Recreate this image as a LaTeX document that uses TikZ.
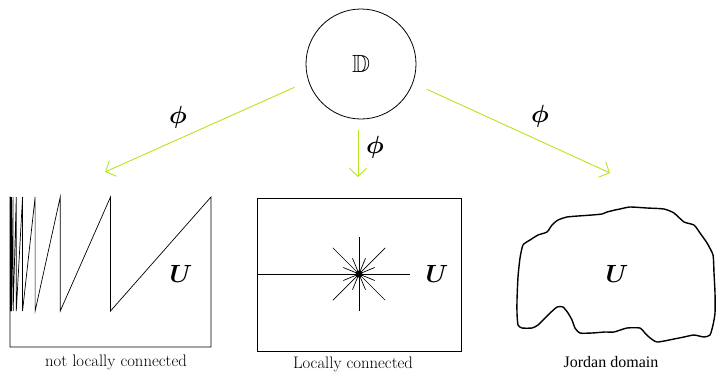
\documentclass[tikz,border=0pt]{standalone}
\usepackage{amsmath,amssymb,bm}
\usepackage{fontspec}
\newfontfamily\timesfont{Liberation Serif}
\usetikzlibrary{arrows.meta}
\definecolor{limegreen}{RGB}{181,230,29}
\begin{document}
\begin{tikzpicture}[x=1pt,y=-1pt,
        map/.style={limegreen, line width=0.9pt, -{Straight Barb[length=8pt,width=17pt]}},
        caption/.style={font=\fontsize{16.7}{20}\selectfont},
        setname/.style={font=\fontsize{24.88}{30}\selectfont}]
        \useasboundingbox (0,0) rectangle (717,373);
        % the disk and the three maps
        \node[draw, circle, line width=0.8pt, minimum size=110pt, inner sep=0pt, setname] (disk) at (361,64) {$\mathbb{D}$};
        \coordinate (lto) at (105,172);
        \coordinate (mto) at (358,177);
        \coordinate (rto) at (610,173);
        \draw[map, shorten <=15pt] (disk.198) -- (lto);
        \draw[map, shorten <=11pt] ([xshift=-3pt]disk.south) -- (mto);
        \draw[map, shorten <=15pt] (disk.340) -- (rto);
        \node[setname] (lphi) at (178,117) {$\bm{\phi}$};
        \node[setname] (mphi) at (375,147) {$\bm{\phi}$};
        \node[setname] (rphi) at (540,116) {$\bm{\phi}$};
        % comb-like domain
        \draw[line width=0.7pt] (10,347) -- (211,347) -- (211,197)
            \foreach \k in {1,...,9} { -- ({10+201/2^\k},311) -- ({10+201/2^\k},197) }
            -- (10,197) -- cycle;
        \node[setname] (lset) at (181,274) {$\bm{U}$};
        \node[caption] (lcap) at (116,362) {not locally connected};
        % slit domain with a star
        \draw[line width=0.7pt] (257,198) rectangle (461,351);
        \coordinate (hub) at (359,274);
        \draw[line width=0.7pt] (257,274) -- (410,274);
        \foreach \a in {45,90,...,360} \draw[line width=0.7pt] (hub) -- ++(\a:37);
        \foreach \a in {22.5,67.5,...,337.5} \draw[line width=0.7pt] (hub) -- ++(\a:17);
        \fill (hub) circle (3.5);
        \node[setname] (mset) at (437,274) {$\bm{U}$};
        \node[caption] (mcap) at (353,364) {Locally connected};
        % Jordan domain
        \draw[line width=1.4pt, line join=round] plot[smooth cycle, tension=0.35] coordinates {
            (523,245) (530,240) (538,235) (547,232) (552,225) (558,220) (567,217) (578,216)
            (592,215) (602,214) (607,212) (615,210) (620,209) (630,207) (647,208) (664,209)
            (674,213) (684,222) (694,225) (700,233) (707,243) (713,255) (714,273) (715,293)
            (715,313) (713,325) (710,335) (704,337) (694,335) (684,337) (674,339) (657,342)
            (649,337) (644,332) (640,328) (627,328) (614,332) (605,332) (592,333) (580,333)
            (575,328) (572,320) (568,313) (563,307) (557,307) (548,315) (538,325) (532,328)
            (522,328) (518,325) (517,313) (517,300) (518,277) (520,258)};
        \node[setname] (rset) at (617,274) {$\bm{U}$};
        \node[caption, font=\timesfont\fontsize{16}{19}\selectfont] (rcap) at (611,362) {Jordan domain};
    \end{tikzpicture}
\end{document}
